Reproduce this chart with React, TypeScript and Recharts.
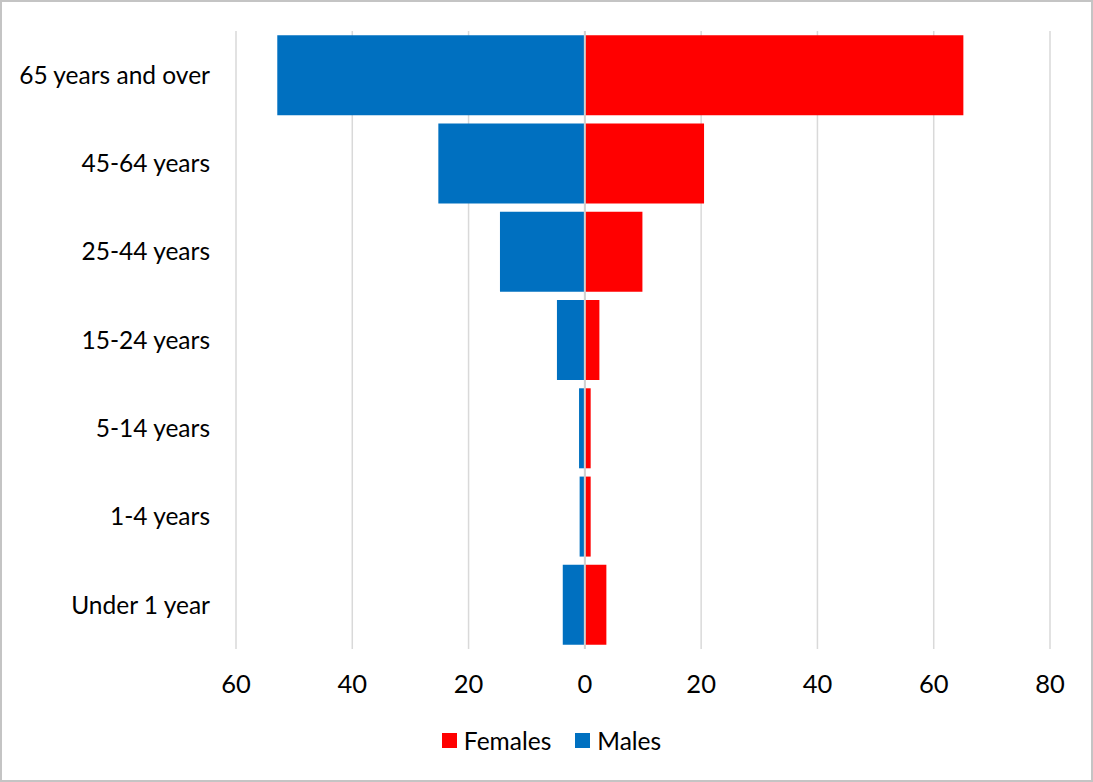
import { BarChart, Bar, XAxis, YAxis, CartesianGrid, Legend, ReferenceLine } from 'recharts';

const AGE_GROUPS = ['65 years and over', '45-64 years', '25-44 years', '15-24 years', '5-14 years', '1-4 years', 'Under 1 year'];
const FEMALES = [65.1, 20.5, 9.9, 2.5, 1.0, 1.0, 3.7];
const MALES = [52.9, 25.2, 14.6, 4.8, 1.0, 0.9, 3.8];
const X_TICKS = [-60, -40, -20, 0, 20, 40, 60, 80];

const FEMALE_COLOR = '#FF0000';
const MALE_COLOR = '#0070C0';
const FONT = 'Lato, "Open Sans", sans-serif';

// males go left of zero, so store them negative
const rows = AGE_GROUPS.map((age, i) => ({ age, females: FEMALES[i], males: -MALES[i] }));

function LegendBox() {
  const items = [
    { label: 'Females', color: FEMALE_COLOR },
    { label: 'Males', color: MALE_COLOR },
  ];
  return (
    <div style={{ display: 'flex', justifyContent: 'center', alignItems: 'center', height: 62, paddingLeft: 10, fontFamily: FONT, fontSize: 24.5, color: '#000' }}>
      {items.map((it) => (
        <div key={it.label} style={{ display: 'flex', alignItems: 'center', margin: '0 12px' }}>
          <span style={{ width: 15, height: 15, background: it.color, marginRight: 7, display: 'inline-block' }} />
          <span>{it.label}</span>
        </div>
      ))}
    </div>
  );
}

export default function App() {
  return (
    <div style={{ position: 'absolute', left: 0, top: 0, width: 1093, height: 782, background: '#fff' }}>
      <BarChart
        width={1093}
        height={782}
        data={rows}
        layout="vertical"
        stackOffset="sign"
        barCategoryGap="4.7%"
        margin={{ top: 31, right: 43, bottom: 0, left: 0 }}
      >
        <CartesianGrid horizontal={false} stroke="#D9D9D9" strokeWidth={1.5} />
        <XAxis
          type="number"
          domain={[-60, 80]}
          ticks={X_TICKS}
          tickFormatter={(v: number) => String(Math.abs(v))}
          axisLine={false}
          tickLine={false}
          tickSize={0}
          tickMargin={26}
          height={60}
          tick={{ fill: '#000', fontSize: 25.5, fontFamily: FONT }}
        />
        <YAxis
          type="category"
          dataKey="age"
          width={236}
          axisLine={false}
          tickLine={false}
          tickSize={0}
          tickMargin={26}
          tick={{ fill: '#000', fontSize: 24.5, fontFamily: FONT }}
        />
        <Bar dataKey="females" name="Females" stackId="a" fill={FEMALE_COLOR} isAnimationActive={false} />
        <Bar dataKey="males" name="Males" stackId="a" fill={MALE_COLOR} isAnimationActive={false} />
        <ReferenceLine x={0} stroke="#D0D0D0" strokeWidth={2} />
        <Legend verticalAlign="bottom" content={<LegendBox />} wrapperStyle={{ height: 73, left: 0, width: 1093 }} />
      </BarChart>
      <div style={{ position: 'absolute', inset: 0, border: '2px solid #C4C4C4', pointerEvents: 'none' }} />
    </div>
  );
}
